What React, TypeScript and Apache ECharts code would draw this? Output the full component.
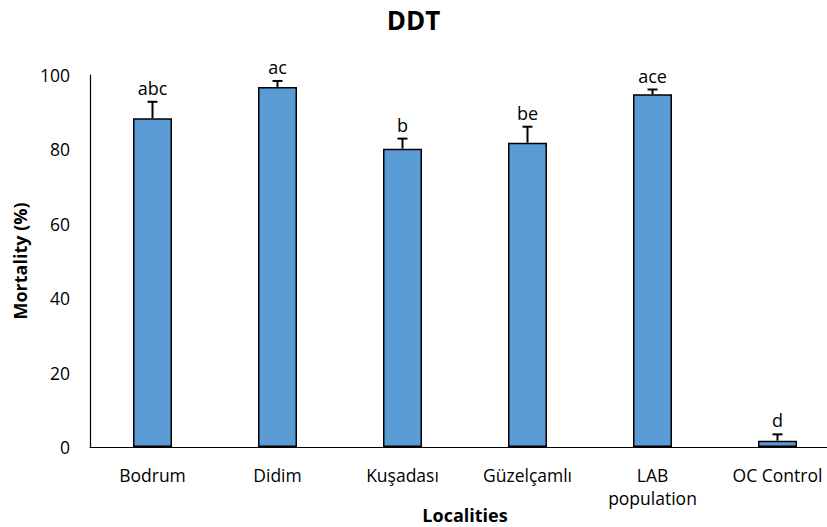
import React, { useEffect, useRef } from "react";
import * as echarts from "echarts";

const categories = ["Bodrum", "Didim", "Kuşadası", "Güzelçamlı", "LAB\npopulation", "OC Control"];
const means = [88.4, 96.8, 80.2, 81.8, 94.8, 1.7];
const errors = [4.4, 1.6, 2.7, 4.3, 1.3, 1.7];
const letters = ["abc", "ac", "b", "be", "ace", "d"];
const yTicks = { min: 0, max: 100, interval: 20 };
const xAxisTitle = "Localities";

const FONT = "'Open Sans', sans-serif";

export default function App() {
  const ref = useRef<HTMLDivElement>(null);
  useEffect(() => {
    if (!ref.current) return;
    const chart = echarts.init(ref.current, null, { renderer: "svg" });
    chart.setOption({
      animation: false,
      backgroundColor: "#fff",
      title: {
        text: "DDT",
        left: "center",
        top: 2,
        textStyle: { fontFamily: FONT, fontSize: 26, fontWeight: "bold", color: "#000" },
      },
      graphic: [
        {
          type: "text",
          x: 465,
          y: 515,
          style: {
            text: xAxisTitle,
            fontFamily: FONT,
            fontSize: 18,
            fontWeight: "bold",
            fill: "#000",
            align: "center",
            verticalAlign: "middle",
          },
        },
      ],
      grid: { left: 90, top: 75, width: 750, bottom: 80, containLabel: false, outerBoundsMode: "none" },
      xAxis: {
        type: "category",
        data: categories,
        axisLine: { show: true, lineStyle: { color: "#000", width: 1.2 } },
        axisTick: { show: false },
        axisLabel: { fontFamily: FONT, fontSize: 17.5, color: "#000", margin: 16, lineHeight: 23, interval: 0 },
      },
      yAxis: {
        type: "value",
        min: yTicks.min,
        max: yTicks.max,
        interval: yTicks.interval,
        name: "Mortality (%)",
        nameLocation: "middle",
        nameGap: 53,
        nameTextStyle: { fontFamily: FONT, fontSize: 18, fontWeight: "bold", color: "#000" },
        splitLine: { show: false },
        axisLine: { show: true, lineStyle: { color: "#000", width: 1.2 } },
        axisTick: { show: false },
        axisLabel: { fontFamily: FONT, fontSize: 17.5, color: "#000", margin: 20 },
      },
      series: [
        {
          type: "bar",
          data: means,
          barWidth: 39,
          itemStyle: { color: "#5B9BD5", borderColor: "#000", borderWidth: 1.5 },
          z: 2,
        },
        {
          type: "custom",
          data: means.map((m, i) => [i, m, errors[i]]),
          z: 3,
          renderItem: (params: any, api: any) => {
            const i = api.value(0);
            const m = api.value(1);
            const e = api.value(2);
            const base = api.coord([i, m]);
            const top = api.coord([i, m + e]);
            const cap = 5;
            return {
              type: "group",
              children: [
                {
                  type: "line",
                  shape: { x1: top[0], y1: base[1], x2: top[0], y2: top[1] },
                  style: { stroke: "#000", lineWidth: 2 },
                },
                {
                  type: "line",
                  shape: { x1: top[0] - cap, y1: top[1], x2: top[0] + cap, y2: top[1] },
                  style: { stroke: "#000", lineWidth: 2 },
                },
                {
                  type: "text",
                  x: top[0],
                  y: top[1] - 5,
                  style: {
                    text: letters[params.dataIndex],
                    fontFamily: FONT,
                    fontSize: 18,
                    fill: "#000",
                    align: "center",
                    verticalAlign: "bottom",
                  },
                },
              ],
            };
          },
        },
      ],
    });
    return () => chart.dispose();
  }, []);
  return (
    <div
      ref={ref}
      style={{ position: "fixed", left: 0, top: 0, width: 827, height: 527 }}
    />
  );
}
